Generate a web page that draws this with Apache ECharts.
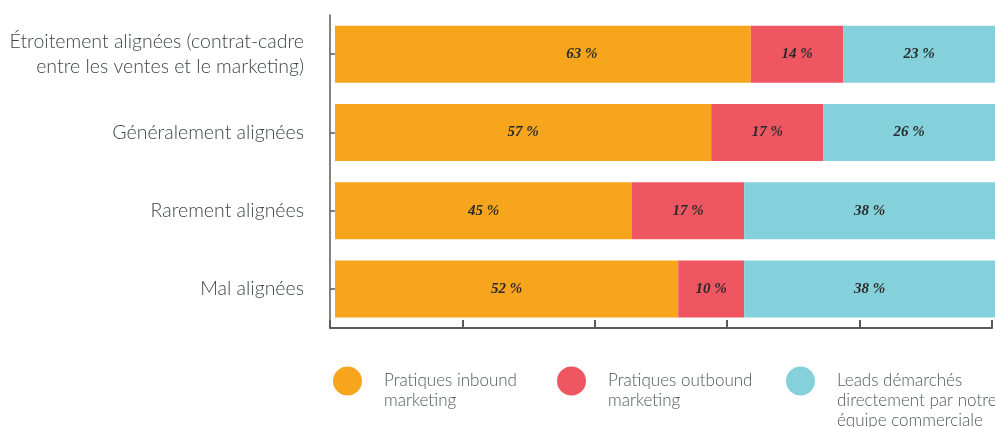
<!DOCTYPE html>
<html>
<head>
<meta charset="utf-8">
<script src="https://cdn.jsdelivr.net/npm/echarts@6/dist/echarts.min.js"></script>
<style>
  html, body { margin: 0; padding: 0; background: #fff; }
  #chart { width: 995px; height: 427px; }
</style>
</head>
<body>
<div id="chart"></div>
<script>
// Alignment levels between sales and marketing (top to bottom)
const categories = [
  'Étroitement alignées (contrat-cadre\nentre les ventes et le marketing)',
  'Généralement alignées',
  'Rarement alignées',
  'Mal alignées'
];

// Share of leads by source, in percent
const seriesNames = [
  'Pratiques inbound marketing',
  'Pratiques outbound marketing',
  'Leads démarchés directement par notre équipe commerciale'
];
const inbound  = [63, 57, 45, 52];
const outbound = [14, 17, 17, 10];
const direct   = [23, 26, 38, 38];

// Wrapped legend texts
const legendTexts = [
  ['Pratiques inbound', 'marketing'],
  ['Pratiques outbound', 'marketing'],
  ['Leads démarchés', 'directement par notre', 'équipe commerciale']
];

const colors = ['#F7A51C', '#EE5761', '#84D1DB'];
const values = [inbound, outbound, direct];

const labelStyle = {
  show: true,
  position: 'inside',
  formatter: '{c} %',
  fontFamily: 'Liberation Serif',
  fontStyle: 'italic',
  fontWeight: 'bold',
  fontSize: 15,
  color: '#2a2a2a'
};

const series = seriesNames.map((name, i) => ({
  name: name,
  type: 'bar',
  stack: 'total',
  xAxisIndex: 0,
  yAxisIndex: 0,
  barWidth: 57,
  itemStyle: { color: colors[i] },
  label: labelStyle,
  emphasis: { disabled: true },
  data: values[i].map((v, j) =>
    (i === 0 && j === 0) ? { value: v, label: { offset: [39, 0] } } : v)
}));

// Legend: the first text line sits level with the dot, following lines below it.
// Blank leading lines keep the text block centred on the dot while pushing it down.
const legendLeft = [333, 557, 786];
const LINE_H = 20;
const DOT_CY = 381;
const legends = seriesNames.map((name, i) => {
  const lines = legendTexts[i];
  const padded = new Array(lines.length - 1).fill('').concat(lines);
  const boxH = padded.length * LINE_H;
  return {
    data: [name],
    left: legendLeft[i],
    top: DOT_CY - boxH / 2,
    padding: 0,
    icon: 'circle',
    itemWidth: 29,
    itemHeight: 29,
    selectedMode: false,
    formatter: () => padded.join('\n'),
    textStyle: {
      fontFamily: 'Lato',
      fontWeight: 300,
      fontSize: 17,
      lineHeight: LINE_H,
      color: '#50575b',
      padding: [0, 0, 0, 17]
    }
  };
});

const lineStyle = { color: '#5b5b5b', width: 2 };

const chart = echarts.init(document.getElementById('chart'), null, { renderer: 'canvas' });
chart.setOption({
  animation: false,
  legend: legends,
  grid: [
    { left: 335, right: 0, top: 15, height: 313 },
    { left: 330, width: 662, top: 15, height: 313 }
  ],
  xAxis: [
    { type: 'value', gridIndex: 0, min: 0, max: 100, show: false },
    {
      type: 'value', gridIndex: 1, min: 0, max: 100, interval: 20,
      position: 'bottom',
      axisLine: { show: true, lineStyle: lineStyle },
      axisTick: { show: true, inside: true, length: 8, lineStyle: lineStyle },
      axisLabel: { show: false },
      splitLine: { show: false }
    }
  ],
  yAxis: [
    { type: 'category', gridIndex: 0, data: categories, inverse: true, show: false },
    {
      type: 'category', gridIndex: 1, data: categories, inverse: true,
      position: 'left',
      axisLine: { show: true, lineStyle: { color: '#5b5b5b', width: 1.5 } },
      axisTick: { show: true, inside: true, length: 6, alignWithLabel: true, lineStyle: { color: '#5b5b5b', width: 1.5 } },
      axisLabel: {
        margin: 26,
        fontFamily: 'Lato',
        fontWeight: 300,
        fontSize: 19.5,
        lineHeight: 25,
        color: '#3c4448',
        align: 'right',
        padding: [3, 0, 0, 0]
      }
    }
  ],
  series: series
});
</script>
</body>
</html>
